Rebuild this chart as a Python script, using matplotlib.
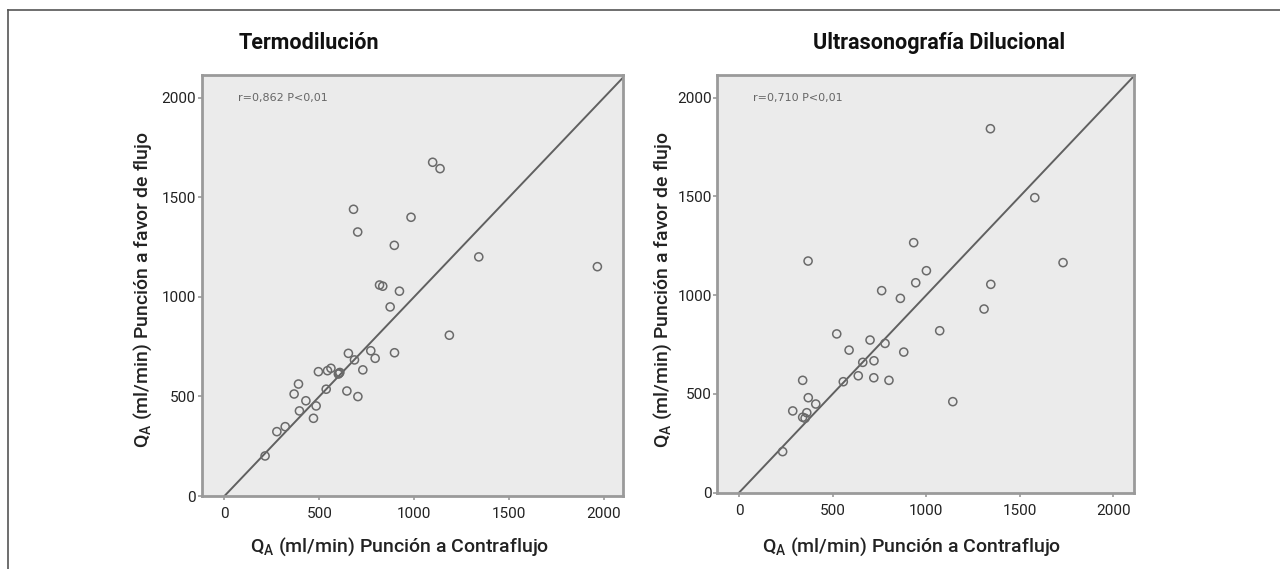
import matplotlib
matplotlib.use("Agg")
import matplotlib.pyplot as plt
from matplotlib.lines import Line2D

# -----------------------------
# Data
# -----------------------------
termo_x = [1097, 1136, 680, 983, 702, 895, 1340, 1965, 817, 834, 922, 873, 1185,
           653, 771, 794, 896, 685, 729, 495, 561, 543, 604, 608, 600, 390, 367,
           536, 645, 703, 429, 483, 395, 469, 320, 276, 214]
termo_y = [1675, 1643, 1439, 1399, 1325, 1258, 1200, 1151, 1059, 1053, 1028, 949, 807,
           716, 729, 691, 719, 683, 633, 624, 641, 629, 616, 620, 612, 562, 512,
           536, 527, 499, 478, 452, 427, 390, 348, 323, 201]

ultra_x = [1343, 1580, 933, 369, 1731, 1001, 944, 1345, 762, 862, 1309, 1072, 522,
           700, 780, 588, 880, 661, 721, 637, 720, 801, 340, 557, 1142, 370, 410,
           287, 362, 340, 353, 233]
ultra_y = [1843, 1494, 1266, 1173, 1165, 1124, 1063, 1055, 1023, 984, 930, 820, 804,
           773, 756, 722, 712, 660, 668, 592, 582, 569, 569, 562, 461, 481, 449,
           414, 405, 382, 377, 208]

titles = ["Termodilución", "Ultrasonografía Dilucional"]
stats = ["r=0,862 P<0,01", "r=0,710 P<0,01"]
ticks = [0, 500, 1000, 1500, 2000]

NARROW = ["Roboto", "DejaVu Sans"]

# -----------------------------
# Figure
# -----------------------------
fig = plt.figure(figsize=(12.8, 5.69), dpi=100)

# frame lines (top and left)
fig.add_artist(Line2D([8 / 1280, 1.0], [1 - 10 / 569, 1 - 10 / 569],
                      transform=fig.transFigure, color="#555555", lw=1.2))
fig.add_artist(Line2D([8 / 1280, 8 / 1280], [1 - 10 / 569, 0.0],
                      transform=fig.transFigure, color="#555555", lw=1.2))

ax1 = fig.add_axes([201.7 / 1280, 1 - 496 / 569, 421.3 / 1280, 421 / 569])
ax2 = fig.add_axes([717.3 / 1280, 1 - 492.7 / 569, 416.7 / 1280, 417.7 / 569])

panels = [
    (ax1, termo_x, termo_y, (-120, 2100), (0, 2113)),
    (ax2, ultra_x, ultra_y, (-116, 2110), (0, 2115)),
]

for i, (ax, xs, ys, xl, yl) in enumerate(panels):
    ax.set_facecolor("#ebebeb")
    ax.plot([0, 2200], [0, 2200], color="#606060", lw=1.4, zorder=2)
    ax.scatter(xs, ys, s=34, facecolors="none", edgecolors="#6a6a6a",
               linewidths=1.1, zorder=3)
    ax.set_xlim(*xl)
    ax.set_ylim(*yl)
    ax.set_xticks(ticks)
    ax.set_yticks(ticks)
    for sp in ax.spines.values():
        sp.set_color("#9a9a9a")
        sp.set_linewidth(2)
    ax.tick_params(axis="both", length=3, width=1.2, color="#9a9a9a",
                   labelsize=11, labelcolor="#222222")
    ax.tick_params(axis="x", pad=5)
    ax.tick_params(axis="y", pad=1)
    for lab in ax.get_xticklabels() + ax.get_yticklabels():
        lab.set_family(NARROW)
    ax.text(0.085, 0.945, stats[i], transform=ax.transAxes, fontsize=8,
            color="#666666", ha="left", va="center")

# -----------------------------
# Titles and axis labels
# -----------------------------
fig.text(309 / 1280, 1 - 43 / 569, titles[0], ha="center", va="center",
         fontsize=15.5, fontweight="bold", family=NARROW, color="#111111")
fig.text(939 / 1280, 1 - 43 / 569, titles[1], ha="center", va="center",
         fontsize=15.5, fontweight="bold", family=NARROW, color="#111111")

xlab = r"Q$_{\mathregular{A}}$ (ml/min) Punción a Contraflujo"
ylab = r"Q$_{\mathregular{A}}$ (ml/min) Punción a favor de flujo"
fig.text(400 / 1280, 1 - 547 / 569, xlab, ha="center", va="center",
         fontsize=14, fontweight="medium", family=NARROW, color="#222222")
fig.text(912 / 1280, 1 - 547 / 569, xlab, ha="center", va="center",
         fontsize=14, fontweight="medium", family=NARROW, color="#222222")
fig.text(143 / 1280, 1 - 290 / 569, ylab, ha="center", va="center",
         rotation=90, fontsize=14, fontweight="medium", family=NARROW,
         color="#222222")
fig.text(663 / 1280, 1 - 290 / 569, ylab, ha="center", va="center",
         rotation=90, fontsize=14, fontweight="medium", family=NARROW,
         color="#222222")

plt.savefig("out.png", dpi=100)
